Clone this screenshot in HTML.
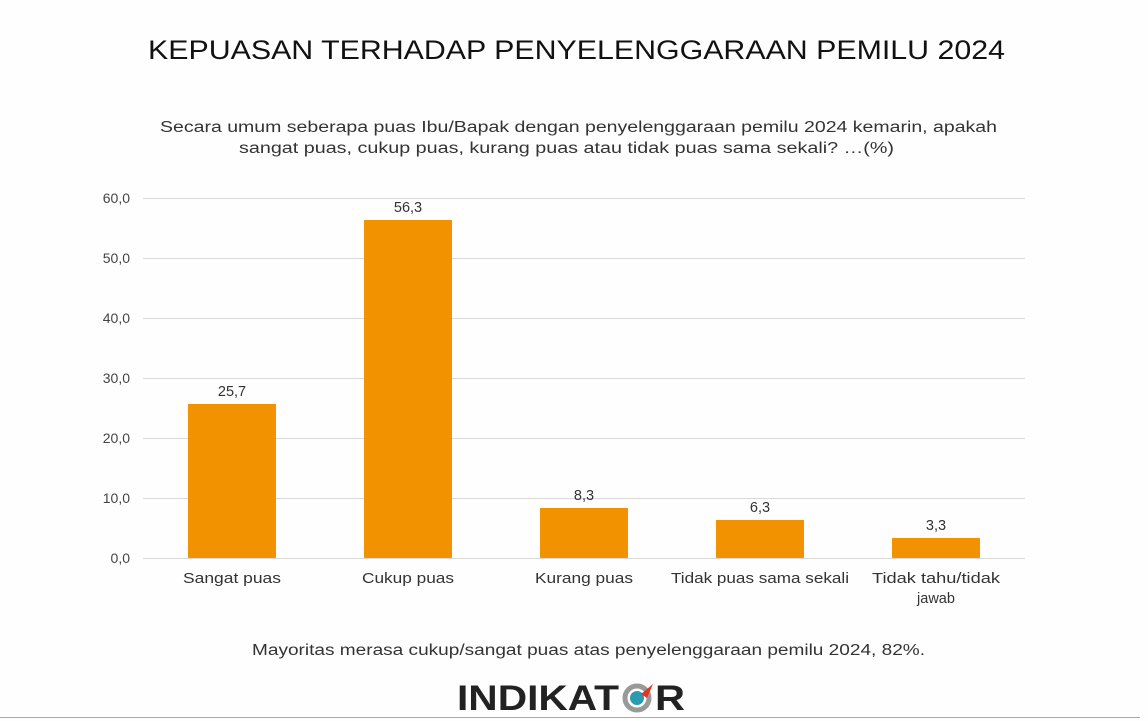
<!DOCTYPE html>
<html><head><meta charset="utf-8"><style>
body{margin:0;background:#fff;}
svg{display:block;font-family:"Liberation Sans",sans-serif;}
</style></head><body>
<svg width="1148" height="721" viewBox="0 0 1148 721">
<rect width="1148" height="721" fill="#fefefe"/>
<text x="148" y="59" font-size="27" fill="#111" textLength="857" lengthAdjust="spacingAndGlyphs">KEPUASAN TERHADAP PENYELENGGARAAN PEMILU 2024</text>
<text x="160" y="132" font-size="15.5" fill="#333" textLength="837" lengthAdjust="spacingAndGlyphs">Secara umum seberapa puas Ibu/Bapak dengan penyelenggaraan pemilu 2024 kemarin, apakah</text>
<text x="239" y="153" font-size="15.5" fill="#333" textLength="655" lengthAdjust="spacingAndGlyphs">sangat puas, cukup puas, kurang puas atau tidak puas sama sekali? …(%)</text>
<g stroke="#d9d9d9" stroke-width="1">
<line x1="143" x2="1025" y1="198.5" y2="198.5"/>
<line x1="143" x2="1025" y1="258.5" y2="258.5"/>
<line x1="143" x2="1025" y1="318.5" y2="318.5"/>
<line x1="143" x2="1025" y1="378.5" y2="378.5"/>
<line x1="143" x2="1025" y1="438.5" y2="438.5"/>
<line x1="143" x2="1025" y1="498.5" y2="498.5"/>
<line x1="143" x2="1025" y1="558.5" y2="558.5"/>
</g>
<g font-size="14" fill="#444" text-anchor="end">
<text x="130" y="203">60,0</text><text x="130" y="263">50,0</text><text x="130" y="323">40,0</text>
<text x="130" y="383">30,0</text><text x="130" y="443">20,0</text><text x="130" y="503">10,0</text><text x="130" y="563">0,0</text>
</g>
<g fill="#f39200">
<rect x="188" y="404" width="88" height="154"/>
<rect x="364" y="220" width="88" height="338"/>
<rect x="540" y="508" width="88" height="50"/>
<rect x="716" y="520" width="88" height="38"/>
<rect x="892" y="538" width="88" height="20"/>
</g>
<g font-size="14.5" fill="#333" text-anchor="middle">
<text x="232" y="396">25,7</text><text x="408" y="212">56,3</text><text x="584" y="500">8,3</text>
<text x="760" y="512">6,3</text><text x="936" y="530">3,3</text>
<text x="232" y="583" textLength="98" lengthAdjust="spacingAndGlyphs">Sangat puas</text>
<text x="408" y="583" textLength="92" lengthAdjust="spacingAndGlyphs">Cukup puas</text>
<text x="584" y="583" textLength="98" lengthAdjust="spacingAndGlyphs">Kurang puas</text>
<text x="760" y="583" textLength="178" lengthAdjust="spacingAndGlyphs">Tidak puas sama sekali</text>
<text x="936" y="583" textLength="128" lengthAdjust="spacingAndGlyphs">Tidak tahu/tidak</text>
<text x="936" y="603">jawab</text>
</g>
<text x="252" y="655" font-size="15.5" fill="#333" textLength="673" lengthAdjust="spacingAndGlyphs">Mayoritas merasa cukup/sangat puas atas penyelenggaraan pemilu 2024, 82%.</text>
<text x="457" y="710" font-size="35" font-weight="bold" fill="#222" textLength="162" lengthAdjust="spacingAndGlyphs">INDIKAT</text>
<circle cx="637" cy="698" r="12" fill="none" stroke="#999" stroke-width="5"/>
<circle cx="637" cy="698" r="7" fill="#2a9bb0"/>
<path d="M641 694 L653 684 L647 698 Z" fill="#e63323"/>
<text x="655" y="710" font-size="35" font-weight="bold" fill="#222" textLength="30" lengthAdjust="spacingAndGlyphs">R</text>
<line x1="0" x2="1140" y1="717.5" y2="717.5" stroke="#aaa" stroke-width="1"/>
</svg>
</body></html>
